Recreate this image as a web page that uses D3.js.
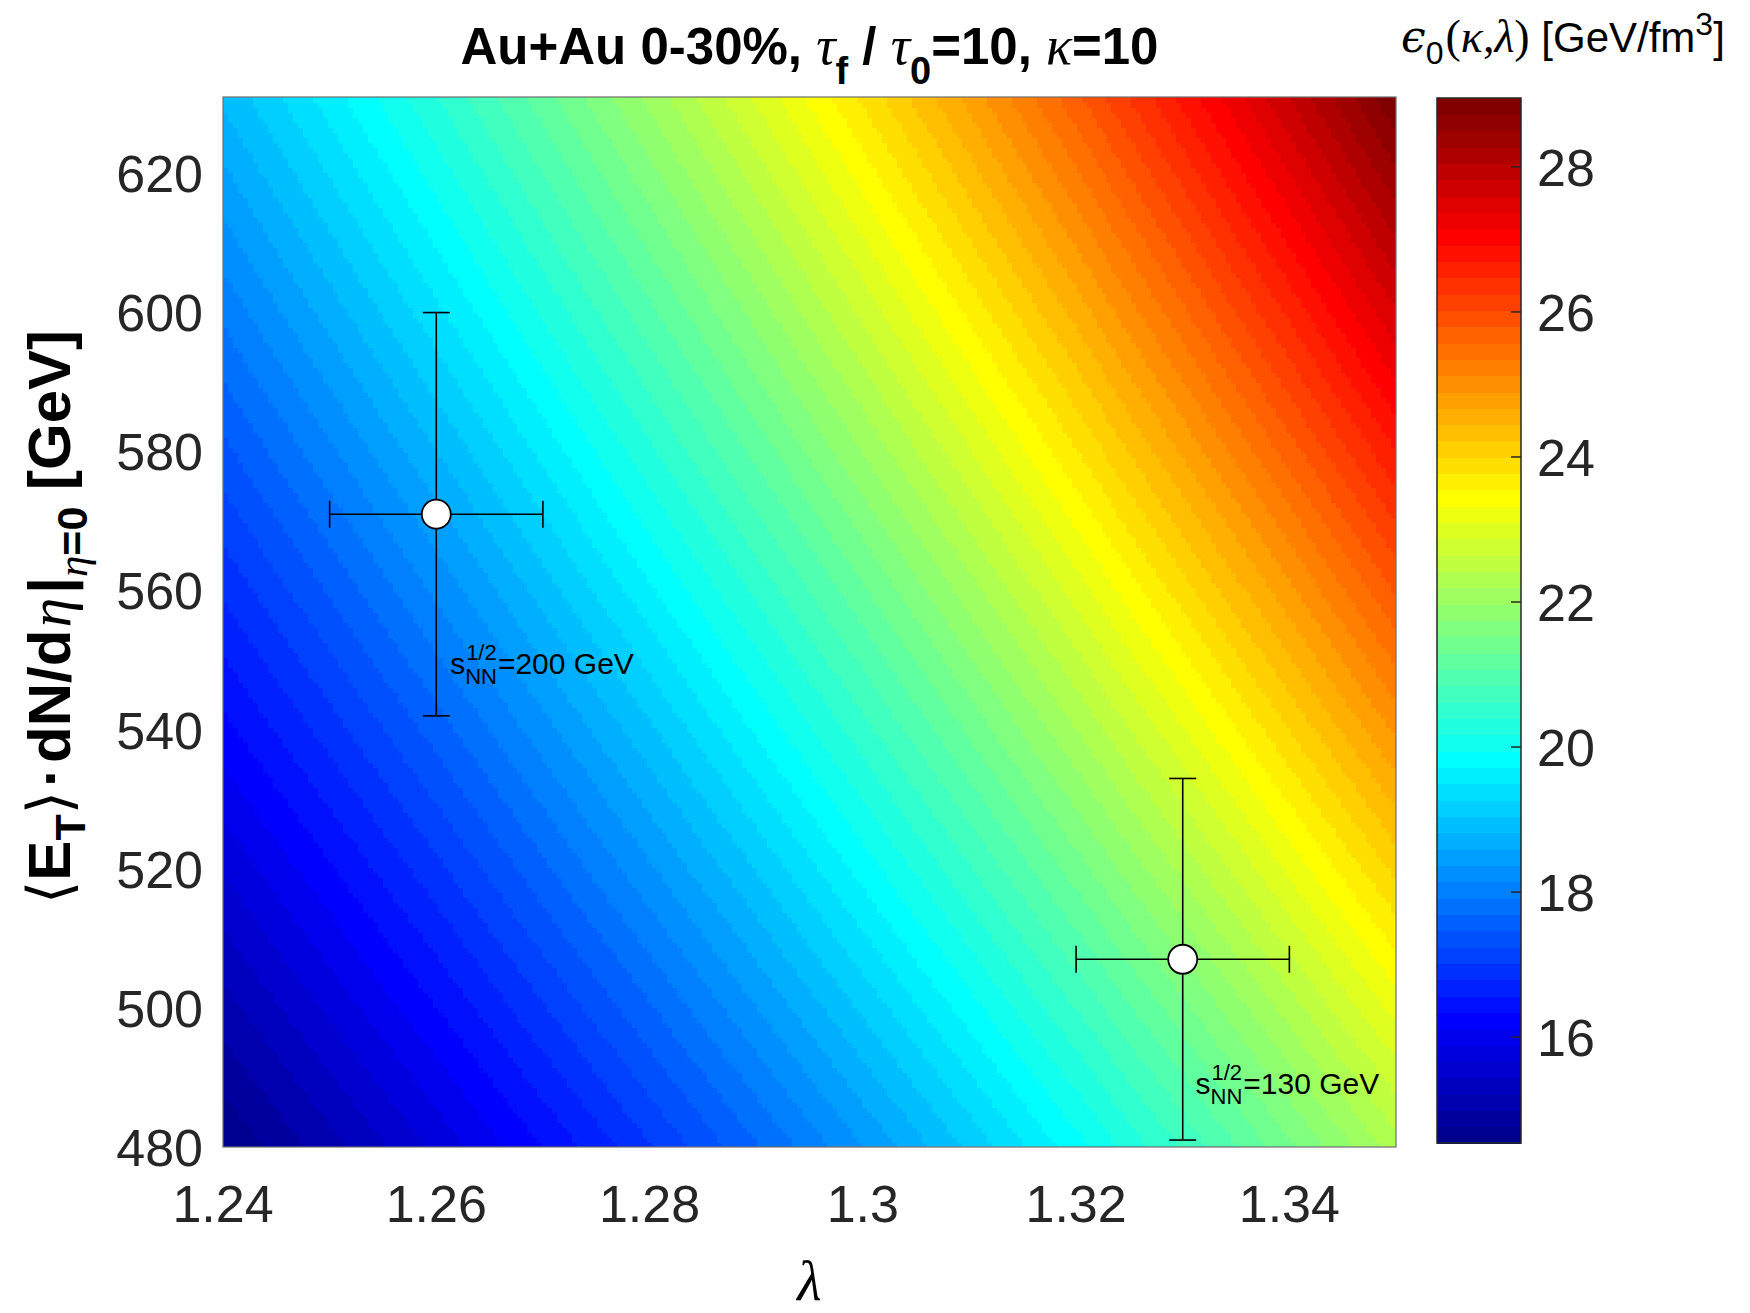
<!DOCTYPE html>
<html><head><meta charset="utf-8">
<script src="https://cdn.jsdelivr.net/npm/d3@7"></script>
<style>body{margin:0;background:#fff} svg{display:block}</style>
</head><body>
<svg id="chart" width="1750" height="1313"></svg>
<script>
// ---------- data ----------
const xTicks = [1.24, 1.26, 1.28, 1.30, 1.32, 1.34];
const xTickLabels = ["1.24", "1.26", "1.28", "1.3", "1.32", "1.34"];
const yTicks = [480, 500, 520, 540, 560, 580, 600, 620];
const cbTicks = [16, 18, 20, 22, 24, 26, 28];
const xDomain = [1.24, 1.35];
const yDomain = [480, 631];
const colorDomain = [14.54, 28.95];

// epsilon_0 field sampled on a coarse grid (rows: E_T dN/deta, cols: lambda)
const gridLambda = [1.24, 1.25, 1.26, 1.27, 1.28, 1.29, 1.30, 1.31, 1.32, 1.33, 1.34, 1.35];
const gridEt = [480, 510, 540, 570, 600, 630];
const epsGrid = [
  [14.54, 15.12, 15.72, 16.34, 16.99, 17.66, 18.36, 19.09, 19.85, 20.64, 21.46, 22.31],
  [15.40, 16.01, 16.64, 17.31, 17.99, 18.70, 19.45, 20.22, 21.02, 21.85, 22.72, 23.62],
  [16.26, 16.90, 17.57, 18.27, 18.99, 19.75, 20.53, 21.34, 22.19, 23.07, 23.99, 24.94],
  [17.11, 17.79, 18.50, 19.23, 20.00, 20.79, 21.61, 22.47, 23.36, 24.29, 25.25, 26.25],
  [17.97, 18.69, 19.43, 20.20, 21.00, 21.83, 22.70, 23.60, 24.53, 25.51, 26.52, 27.57],
  [18.83, 19.58, 20.35, 21.16, 22.00, 22.87, 23.78, 24.72, 25.70, 26.72, 27.78, 28.89]
];

// measured points
const pointLambda = [1.26, 1.33];
const pointLambdaErr = [0.01, 0.01];
const pointEt = [571, 507];
const pointEtErr = [29, 26];
const pointEnergy = ["200", "130"];
const labelLambda = [1.2613, 1.3312];
const labelEt = [548, 487.6];

// ---------- layout ----------
const plot = {left: 223, right: 1396, top: 97, bottom: 1147};
const cb = {left: 1437, right: 1521, top: 98, bottom: 1143};
const SANS = "'Liberation Sans', Arial, Helvetica, sans-serif";
const SERIF = "'Liberation Serif', 'DejaVu Serif', 'Times New Roman', serif";
const TICK_COLOR = "#262626";

const svg = d3.select("#chart");
const x = d3.scaleLinear().domain(xDomain).range([plot.left, plot.right]);
const y = d3.scaleLinear().domain(yDomain).range([plot.bottom, plot.top]);
const cy = d3.scaleLinear().domain(colorDomain).range([cb.bottom, cb.top]);

// MATLAB jet(64)
function jet64(i) {
  const k = i + 1;
  const r = k <= 24 ? 0 : k <= 40 ? (k - 24) / 16 : k <= 56 ? 1 : 1 - (k - 56) / 16;
  const g = k <= 8 ? 0 : k <= 24 ? (k - 8) / 16 : k <= 40 ? 1 : k <= 56 ? 1 - (k - 40) / 16 : 0;
  const b = k <= 8 ? 0.5 + k / 16 : k <= 24 ? 1 : k <= 40 ? 1 - (k - 24) / 16 : 0;
  return d3.rgb(r * 255, g * 255, b * 255).formatHex();
}
const nColors = 64;
const colorIndex = d3.scaleQuantize().domain(colorDomain).range(d3.range(nColors));

function locate(arr, v) {
  let i = d3.bisectRight(arr, v) - 1;
  i = Math.max(0, Math.min(arr.length - 2, i));
  return [i, (v - arr[i]) / (arr[i + 1] - arr[i])];
}
function field(l, e) {
  const [i, ti] = locate(gridLambda, l);
  const [j, tj] = locate(gridEt, e);
  const a = epsGrid[j][i] * (1 - ti) + epsGrid[j][i + 1] * ti;
  const b = epsGrid[j + 1][i] * (1 - ti) + epsGrid[j + 1][i + 1] * ti;
  return a * (1 - tj) + b * tj;
}

// ---------- heat map (rendered cells, merged into same-colour runs per row) ----------
const nCols = 235, nRows = 210;
const dL = (xDomain[1] - xDomain[0]) / nCols;
const dE = (yDomain[1] - yDomain[0]) / nRows;
const runs = [];
for (let j = 0; j < nRows; j++) {
  const e0 = yDomain[0] + j * dE;
  let start = 0, cur = colorIndex(field(xDomain[0] + 0.5 * dL, e0 + dE / 2));
  for (let i = 1; i <= nCols; i++) {
    const idx = i < nCols ? colorIndex(field(xDomain[0] + (i + 0.5) * dL, e0 + dE / 2)) : -1;
    if (idx !== cur) {
      runs.push({l0: xDomain[0] + start * dL, l1: xDomain[0] + i * dL, e0: e0, e1: e0 + dE, idx: cur});
      start = i; cur = idx;
    }
  }
}
svg.append("clipPath").attr("id", "plotclip").append("rect")
  .attr("x", plot.left).attr("y", plot.top)
  .attr("width", plot.right - plot.left).attr("height", plot.bottom - plot.top);

svg.append("g").attr("clip-path", "url(#plotclip)").attr("shape-rendering", "crispEdges")
  .selectAll("rect").data(runs).join("rect")
  .attr("x", d => x(d.l0))
  .attr("y", d => y(d.e1))
  .attr("width", d => x(d.l1) - x(d.l0) + 0.6)
  .attr("height", d => y(d.e0) - y(d.e1) + 0.6)
  .attr("fill", d => jet64(d.idx));

// plot frame
svg.append("rect")
  .attr("x", plot.left).attr("y", plot.top)
  .attr("width", plot.right - plot.left).attr("height", plot.bottom - plot.top)
  .attr("fill", "none").attr("stroke", "#6e6e6e").attr("stroke-width", 1.2);

// ---------- axes tick labels ----------
svg.append("g").selectAll("text").data(xTicks).join("text")
  .attr("x", d => x(d)).attr("y", 1222)
  .attr("text-anchor", "middle")
  .attr("font-family", SANS).attr("font-size", 52).attr("fill", TICK_COLOR)
  .text((d, i) => xTickLabels[i]);

svg.append("g").selectAll("text").data(yTicks).join("text")
  .attr("x", 203).attr("y", d => y(d)).attr("dy", "0.36em")
  .attr("text-anchor", "end")
  .attr("font-family", SANS).attr("font-size", 52).attr("fill", TICK_COLOR)
  .text(d => d);

// x label
svg.append("text").attr("x", (plot.left + plot.right) / 2).attr("y", 1300)
  .attr("text-anchor", "middle").attr("font-family", SERIF).attr("font-style", "italic")
  .attr("font-size", 56).attr("fill", "#000").text("λ");

// y label
{
  const t = svg.append("text")
    .attr("transform", `translate(70,617) rotate(-90)`)
    .attr("text-anchor", "middle").attr("font-family", SANS).attr("font-size", 60)
    .attr("font-weight", "bold").attr("fill", "#000");
  t.append("tspan").attr("font-family", "'DejaVu Sans', sans-serif").attr("font-weight", "normal").text("⟨");
  t.append("tspan").text("E");
  t.append("tspan").attr("font-size", 43).attr("dy", 15).text("T");
  t.append("tspan").attr("dy", -15).attr("font-family", "'DejaVu Sans', sans-serif").attr("font-weight", "normal").text("⟩");
  t.append("tspan").attr("dx", 4).text("·");
  t.append("tspan").attr("dx", 4).text("dN/d");
  t.append("tspan").attr("dx", 2).attr("font-family", SERIF).attr("font-style", "italic").attr("font-weight", "normal").text("η");
  t.append("tspan").attr("dx", 4).text("|");
  t.append("tspan").attr("dy", 17).attr("font-size", 43).attr("font-family", SERIF).attr("font-style", "italic").attr("font-weight", "normal").text("η");
  t.append("tspan").attr("font-size", 43).text("=0");
  t.append("tspan").attr("dy", -17).text(" [GeV]");
}

// title
{
  const t = svg.append("text").attr("x", (plot.left + plot.right) / 2).attr("y", 64)
    .attr("text-anchor", "middle").attr("font-family", SANS).attr("font-size", 51)
    .attr("font-weight", "bold").attr("fill", "#000");
  t.append("tspan").text("Au+Au 0-30%, ");
  t.append("tspan").attr("font-family", SERIF).attr("font-style", "italic").attr("font-weight", "normal").attr("font-size", 54).text("τ");
  t.append("tspan").attr("dy", 20).attr("font-size", 38).text("f");
  t.append("tspan").attr("dy", -20).text(" / ");
  t.append("tspan").attr("font-family", SERIF).attr("font-style", "italic").attr("font-weight", "normal").attr("font-size", 54).text("τ");
  t.append("tspan").attr("dy", 20).attr("font-size", 38).text("0");
  t.append("tspan").attr("dy", -20).text("=10, ");
  t.append("tspan").attr("font-family", SERIF).attr("font-style", "italic").attr("font-weight", "normal").attr("font-size", 54).text("κ");
  t.append("tspan").text("=10");
}

// ---------- error bars and points ----------
const pts = pointLambda.map((l, i) => ({l, le: pointLambdaErr[i], e: pointEt[i], ee: pointEtErr[i]}));
const cap = 13.5;
const eg = svg.append("g").attr("stroke", "#000").attr("stroke-width", 1.6);
pts.forEach(p => {
  eg.append("line").attr("x1", x(p.l - p.le)).attr("x2", x(p.l + p.le)).attr("y1", y(p.e)).attr("y2", y(p.e));
  eg.append("line").attr("x1", x(p.l)).attr("x2", x(p.l)).attr("y1", y(p.e - p.ee)).attr("y2", y(p.e + p.ee));
  eg.append("line").attr("x1", x(p.l - p.le)).attr("x2", x(p.l - p.le)).attr("y1", y(p.e) - cap).attr("y2", y(p.e) + cap);
  eg.append("line").attr("x1", x(p.l + p.le)).attr("x2", x(p.l + p.le)).attr("y1", y(p.e) - cap).attr("y2", y(p.e) + cap);
  eg.append("line").attr("x1", x(p.l) - cap).attr("x2", x(p.l) + cap).attr("y1", y(p.e + p.ee)).attr("y2", y(p.e + p.ee));
  eg.append("line").attr("x1", x(p.l) - cap).attr("x2", x(p.l) + cap).attr("y1", y(p.e - p.ee)).attr("y2", y(p.e - p.ee));
});
svg.append("g").selectAll("circle").data(pts).join("circle")
  .attr("cx", d => x(d.l)).attr("cy", d => y(d.e)).attr("r", 14.5)
  .attr("fill", "#fff").attr("stroke", "#000").attr("stroke-width", 1.8);

// annotations
pointEnergy.forEach((en, i) => {
  const x0 = x(labelLambda[i]), y0 = y(labelEt[i]);
  const g = svg.append("g").attr("font-family", SANS).attr("fill", "#000");
  const s = g.append("text").attr("x", x0).attr("y", y0).attr("font-size", 30).text("s");
  const w = s.node().getComputedTextLength();
  const sup = g.append("text").attr("x", x0 + w + 1).attr("y", y0 - 14).attr("font-size", 22).text("1/2");
  const sub = g.append("text").attr("x", x0 + w).attr("y", y0 + 10).attr("font-size", 22).text("NN");
  const w2 = Math.max(sup.node().getComputedTextLength(), sub.node().getComputedTextLength());
  g.append("text").attr("x", x0 + w + w2 + 1).attr("y", y0).attr("font-size", 30).text(`=${en} GeV`);
});

// ---------- colour bar ----------
const bands = d3.range(nColors).map(i => ({
  v0: colorDomain[0] + i * (colorDomain[1] - colorDomain[0]) / nColors,
  v1: colorDomain[0] + (i + 1) * (colorDomain[1] - colorDomain[0]) / nColors,
  idx: i
}));
svg.append("g").attr("shape-rendering", "crispEdges").selectAll("rect").data(bands).join("rect")
  .attr("x", cb.left).attr("width", cb.right - cb.left)
  .attr("y", d => cy(d.v1)).attr("height", d => cy(d.v0) - cy(d.v1) + 0.6)
  .attr("fill", d => jet64(d.idx));
svg.append("rect").attr("x", cb.left).attr("y", cb.top)
  .attr("width", cb.right - cb.left).attr("height", cb.bottom - cb.top)
  .attr("fill", "none").attr("stroke", "#262626").attr("stroke-width", 1.5);
svg.append("g").selectAll("line").data(cbTicks).join("line")
  .attr("x1", cb.right - 10).attr("x2", cb.right)
  .attr("y1", d => cy(d)).attr("y2", d => cy(d))
  .attr("stroke", "#262626").attr("stroke-width", 1.5);
svg.append("g").selectAll("text").data(cbTicks).join("text")
  .attr("x", 1537).attr("y", d => cy(d)).attr("dy", "0.36em")
  .attr("font-family", SANS).attr("font-size", 52).attr("fill", TICK_COLOR)
  .text(d => d);

// colour bar label
{
  const t = svg.append("text").attr("x", 1401).attr("y", 52)
    .attr("font-family", SANS).attr("font-size", 42).attr("fill", "#000");
  t.append("tspan").attr("font-family", "'DejaVu Serif', serif").attr("font-style", "italic").attr("font-size", 44).text("ϵ");
  t.append("tspan").attr("dy", 12).attr("font-size", 32).text("0");
  t.append("tspan").attr("dy", -12).attr("dx", 2).attr("font-family", SERIF).attr("font-size", 46).text("(");
  t.append("tspan").attr("font-family", SERIF).attr("font-style", "italic").attr("font-size", 46).text("κ");
  t.append("tspan").attr("font-family", SERIF).attr("font-size", 46).text(",");
  t.append("tspan").attr("font-family", SERIF).attr("font-style", "italic").attr("font-size", 46).text("λ");
  t.append("tspan").attr("font-family", SERIF).attr("font-size", 46).text(")");
  t.append("tspan").text(" [GeV/fm");
  t.append("tspan").attr("dy", -17).attr("font-size", 32).text("3");
  t.append("tspan").attr("dy", 17).text("]");
}
</script>
</body></html>
